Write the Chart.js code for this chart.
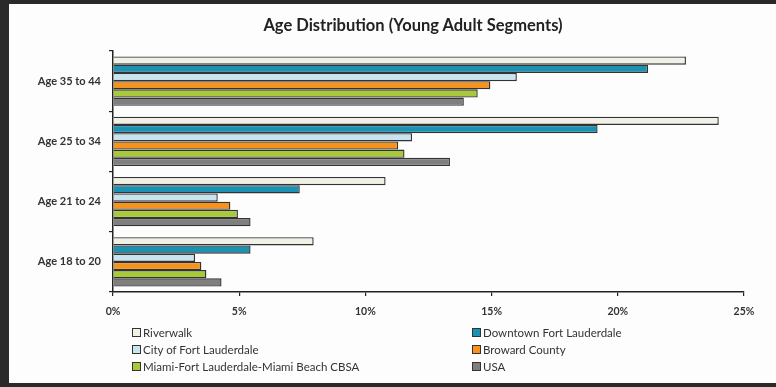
<!DOCTYPE html>
<html>
<head>
<meta charset="utf-8">
<script src="https://cdn.jsdelivr.net/npm/chart.js@4/dist/chart.umd.min.js"></script>
<style>
  html, body { margin: 0; padding: 0; }
  body { width: 776px; height: 387px; background: #2a2a2a; position: relative; overflow: hidden; }
  #panel { position: absolute; left: 9px; top: 4px; width: 767px; height: 379px; background: #fdfdfd; }
  #chartBox { position: absolute; left: 0; top: 0; width: 767px; height: 379px; }
  #title { position: absolute; left: 204px; top: 11px; width: 400px; text-align: center;
           font-family: Lato, "Open Sans", sans-serif; font-size: 16.5px; font-weight: bold;
           color: #222; line-height: 20px; white-space: nowrap; }
  #legend { position: absolute; left: 123px; top: 321px; width: 560px;
            display: grid; grid-template-columns: 340px 220px; row-gap: 3px;
            font-family: Lato, "Open Sans", sans-serif; font-size: 11.5px; color: #333; }
  .legend-item { display: flex; align-items: center; height: 14px; white-space: nowrap; }
  .legend-box { width: 7px; height: 7px; border: 1.5px solid #333; margin-right: 2px; }
</style>
</head>
<body>
<div id="panel">
  <div id="chartBox"><canvas id="ageChart"></canvas></div>
  <div id="title"></div>
  <div id="legend"></div>
</div>

<script>
/******************************************************
 * DATA
 ******************************************************/
const chartTitle = "Age Distribution (Young Adult Segments)";

const ageGroups = ["Age 35 to 44", "Age 25 to 34", "Age 21 to 24", "Age 18 to 20"];

const riverwalk  = [22.7, 24.0, 10.8, 7.95];
const downtown   = [21.2, 19.2, 7.4, 5.45];
const cityFtl    = [16.0, 11.85, 4.15, 3.25];
const broward    = [14.95, 11.3, 4.65, 3.5];
const miamiCbsa  = [14.45, 11.55, 4.95, 3.7];
const usa        = [13.9, 13.35, 5.45, 4.3];

const xTicks = [0, 5, 10, 15, 20, 25];

const seriesNames = [
  "Riverwalk",
  "Downtown Fort Lauderdale",
  "City of Fort Lauderdale",
  "Broward County",
  "Miami-Fort Lauderdale-Miami Beach CBSA",
  "USA"
];
const seriesValues = [riverwalk, downtown, cityFtl, broward, miamiCbsa, usa];
const seriesColors = ["#f1f0e6", "#1b92b1", "#c9e4f1", "#f6931f", "#a7c93a", "#7f7f7f"];

const FONT = "Lato, 'Open Sans', sans-serif";


/******************************************************
 * CHART
 ******************************************************/
document.addEventListener("DOMContentLoaded", drawChart);

function drawChart() {
  document.getElementById("title").innerText = chartTitle;

  const datasets = seriesNames.map((name, i) => ({
    label: name,
    data: seriesValues[i],
    backgroundColor: seriesColors[i],
    borderColor: "#333333",
    borderWidth: 1.4,
    categoryPercentage: 0.82,
    barPercentage: 1.0
  }));

  const ctx = document.getElementById("ageChart").getContext("2d");
  new Chart(ctx, {
    type: "bar",
    data: { labels: ageGroups, datasets: datasets },
    options: {
      indexAxis: "y",
      responsive: true,
      maintainAspectRatio: false,
      animation: false,
      layout: { padding: { left: 0, right: 32, top: 47, bottom: 61 } },
      plugins: {
        legend: { display: false },
        tooltip: { enabled: false },
        title: { display: false }
      },
      scales: {
        x: {
          min: 0,
          max: 25,
          afterBuildTicks: axis => { axis.ticks = xTicks.map(v => ({ value: v })); },
          afterFit: axis => { axis.height = 30; },
          border: { display: true, color: "#222", width: 1.5 },
          grid: { drawOnChartArea: false, drawTicks: true, tickLength: 4, color: "#222", lineWidth: 1.2 },
          ticks: {
            color: "#333",
            padding: 9,
            font: { family: FONT, size: 10.5, weight: "bold" },
            callback: v => v + "%"
          }
        },
        y: {
          afterFit: axis => { axis.width = 104; },
          border: { display: true, color: "#222", width: 1.5 },
          grid: { offset: true, drawOnChartArea: false, drawTicks: true, tickLength: 4, color: "#222", lineWidth: 1.2 },
          ticks: {
            color: "#333",
            padding: 8,
            font: { family: FONT, size: 11, weight: "bold" }
          }
        }
      }
    }
  });

  buildLegend();
}


/******************************************************
 * LEGEND (two columns, row by row)
 ******************************************************/
function buildLegend() {
  const container = document.getElementById("legend");
  container.innerHTML = "";

  seriesNames.forEach((name, i) => {
    const div = document.createElement("div");
    div.className = "legend-item";
    div.innerHTML = `
      <span class="legend-box" style="background:${seriesColors[i]}"></span>
      <span>${name}</span>
    `;
    container.appendChild(div);
  });
}
</script>
</body>
</html>
